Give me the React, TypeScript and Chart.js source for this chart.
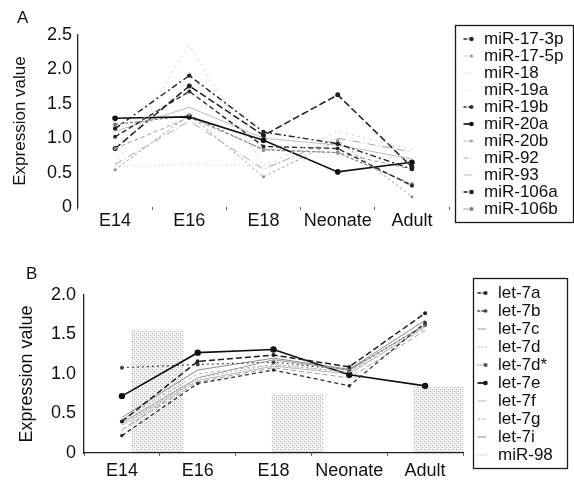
import React, { useEffect, useRef } from 'react';
import { Chart, registerables } from 'chart.js';

Chart.register(...registerables);

const FONT = "'Liberation Sans', Arial, Helvetica, sans-serif";

// ---------- categories ----------
const stages = ['E14', 'E16', 'E18', 'Neonate', 'Adult'];

// ---------- Panel A : miR-17 family ----------
const yMaxA = 2.5;
const yStepA = 0.5;
const mir17_3p = [1.14, 1.91, 1.09, 0.92, 0.55];
const mir17_5p = [0.54, 1.34, 0.44, 0.97, 0.15];
const mir18 = [0.62, 2.35, 0.6, 1.1, 0.83];
const mir19a = [0.58, 0.62, 0.6, 0.75, 0.7];
const mir19b = [1.02, 1.68, 0.88, 0.85, 0.31];
const mir20a = [1.29, 1.31, 0.97, 0.51, 0.65];
const mir20b = [0.85, 1.3, 0.84, 0.79, 0.55];
const mir92 = [0.62, 1.25, 0.55, 1.0, 0.8];
const mir93 = [1.1, 1.45, 1.0, 0.9, 0.7];
const mir106a = [0.85, 1.76, 1.04, 1.63, 0.58];
const mir106b = [1.2, 1.33, 0.83, 0.79, 0.33];

const labelsA = ['miR-17-3p', 'miR-17-5p', 'miR-18', 'miR-19a', 'miR-19b', 'miR-20a', 'miR-20b', 'miR-92', 'miR-93', 'miR-106a', 'miR-106b'];
const valuesA = [mir17_3p, mir17_5p, mir18, mir19a, mir19b, mir20a, mir20b, mir92, mir93, mir106a, mir106b];

// ---------- Panel B : let-7 family ----------
const yMaxB = 2.0;
const yStepB = 0.5;
const let7a = [0.4, 1.16, 1.24, 1.09, 1.77];
const let7b = [0.22, 0.88, 1.05, 0.85, 1.65];
const let7c = [0.38, 0.95, 1.18, 1.05, 1.62];
const let7d = [0.42, 1.0, 1.12, 1.02, 1.58];
const let7dStar = [1.08, 1.12, 1.15, 1.05, 1.62];
const let7e = [0.72, 1.27, 1.31, 0.99, 0.85];
const let7f = [0.35, 0.92, 1.1, 1.0, 1.6];
const let7g = [0.3, 0.9, 1.08, 0.95, 1.55];
const let7i = [0.45, 1.05, 1.2, 1.06, 1.68];
const mir98 = [0.28, 0.95, 1.12, 1.03, 1.63];

const labelsB = ['let-7a', 'let-7b', 'let-7c', 'let-7d', 'let-7d*', 'let-7e', 'let-7f', 'let-7g', 'let-7i', 'miR-98'];
const valuesB = [let7a, let7b, let7c, let7d, let7dStar, let7e, let7f, let7g, let7i, mir98];

// shaded (stippled) regions in panel B, in category / value units
const bandStart = [0.12, 1.97, 3.84];
const bandEnd = [0.81, 2.66, 4.5];
const bandTop = [1.56, 0.75, 0.84];

// ---------- styles ----------
type Style = { color: string; dash: number[]; width: number; radius: number };

const stylesA: Style[] = [
  { color: '#222222', dash: [6, 3, 2, 3], width: 1.4, radius: 2.2 },
  { color: '#8c8c8c', dash: [2, 3], width: 1, radius: 1.5 },
  { color: '#cccccc', dash: [2, 4], width: 1, radius: 0 },
  { color: '#cfcfcf', dash: [1, 3], width: 1, radius: 0 },
  { color: '#2a2a2a', dash: [5, 3], width: 1.4, radius: 2 },
  { color: '#111111', dash: [], width: 1.6, radius: 2.8 },
  { color: '#9a9a9a', dash: [4, 3], width: 1, radius: 1.5 },
  { color: '#a8a8a8', dash: [8, 3, 1, 3], width: 1, radius: 0 },
  { color: '#bbbbbb', dash: [], width: 1, radius: 0 },
  { color: '#1e1e1e', dash: [7, 3], width: 1.5, radius: 2.5 },
  { color: '#777777', dash: [3, 2], width: 1.1, radius: 2 },
];

const stylesB: Style[] = [
  { color: '#1e1e1e', dash: [6, 3], width: 1.5, radius: 2 },
  { color: '#333333', dash: [4, 3], width: 1.3, radius: 1.8 },
  { color: '#9a9a9a', dash: [], width: 1, radius: 0 },
  { color: '#b0b0b0', dash: [3, 3], width: 1, radius: 0 },
  { color: '#444444', dash: [2, 3], width: 1.2, radius: 2 },
  { color: '#111111', dash: [], width: 1.7, radius: 3.2 },
  { color: '#b8b8b8', dash: [], width: 1, radius: 0 },
  { color: '#a0a0a0', dash: [5, 3], width: 1, radius: 0 },
  { color: '#8a8a8a', dash: [], width: 1, radius: 0 },
  { color: '#9a9a9a', dash: [1.5, 3], width: 1, radius: 0 },
];

// ---------- geometry ----------
type Geom = {
  top: number; height: number; padTop: number; yAxisWidth: number; xAxisHeight: number;
  legendMaxWidth: number; legendTopOffset: number; labelPad: number;
  titlePad: number; titleSize: number; yTickPad: number; xTickPad: number;
  box: { l: number; r: number; t: number; b: number }; xBorder: boolean;
};

const LEGEND_FONT = 17;
const MARK_W = 56;
const TEXT_OFFSET = 35;

const geomA: Geom = {
  top: 0, height: 245, padTop: 35, yAxisWidth: 78, xAxisHeight: 38,
  legendMaxWidth: 125, legendTopOffset: -4.5, labelPad: 0,
  titlePad: 10, titleSize: 17, yTickPad: 6, xTickPad: 0,
  box: { l: 6, r: 124, t: -10, b: 15 }, xBorder: false,
};
const geomB: Geom = {
  top: 245, height: 249, padTop: 50, yAxisWidth: 84, xAxisHeight: 41,
  legendMaxWidth: 111, legendTopOffset: -11.5, labelPad: 1,
  titlePad: 16, titleSize: 18, yTickPad: 8, xTickPad: 4,
  box: { l: 10, r: 104, t: -17, b: 15 }, xBorder: true,
};

function makeMarker(st: Style): HTMLCanvasElement {
  const c = document.createElement('canvas');
  c.width = MARK_W;
  c.height = 10;
  const g = c.getContext('2d')!;
  g.strokeStyle = st.color;
  g.lineWidth = Math.max(1, st.width);
  g.setLineDash(st.dash.map((d) => d * 0.6));
  g.beginPath();
  g.moveTo(MARK_W - 12, 5);
  g.lineTo(MARK_W - 3, 5);
  g.stroke();
  if (st.radius > 0) {
    g.fillStyle = st.color;
    g.beginPath();
    g.arc(MARK_W - 4, 5, Math.min(st.radius, 2.3), 0, Math.PI * 2);
    g.fill();
  }
  return c;
}

function stipple(ctx: CanvasRenderingContext2D) {
  const c = document.createElement('canvas');
  c.width = 4;
  c.height = 4;
  const g = c.getContext('2d')!;
  g.fillStyle = 'rgba(110,110,110,0.55)';
  g.fillRect(0, 0, 1, 1);
  g.fillRect(2, 2, 1, 1);
  g.fillStyle = 'rgba(160,160,160,0.35)';
  g.fillRect(2, 0, 1, 1);
  g.fillRect(0, 2, 1, 1);
  return ctx.createPattern(c, 'repeat');
}

function legendPlacer(geom: Geom) {
  return {
    id: 'legendPlacer',
    afterLayout(chart: any) {
      const lg = chart.legend;
      if (!lg) return;
      const ca = chart.chartArea;
      const left = ca.right + TEXT_OFFSET - geom.labelPad - MARK_W - LEGEND_FONT / 2;
      lg.left = left;
      lg.right = chart.width;
      lg.width = lg.right - left;
      lg.top = ca.top + geom.legendTopOffset;
      lg.bottom = chart.height;
      lg.height = lg.bottom - lg.top;
    },
    afterDraw(chart: any) {
      const ca = chart.chartArea;
      const ctx = chart.ctx;
      ctx.save();
      ctx.strokeStyle = '#1a1a1a';
      ctx.lineWidth = 1.3;
      const x0 = Math.round(ca.right + geom.box.l) + 0.5;
      const x1 = Math.round(ca.right + geom.box.r) + 0.5;
      const y0 = Math.round(ca.top + geom.box.t) + 0.5;
      const y1 = Math.round(ca.bottom + geom.box.b) + 0.5;
      ctx.strokeRect(x0, y0, x1 - x0, y1 - y0);
      ctx.restore();
    },
  };
}

function bandsPlugin(starts: number[], ends: number[], tops: number[]) {
  return {
    id: 'bands',
    beforeDatasetsDraw(chart: any) {
      const x = chart.scales.x;
      const y = chart.scales.y;
      const ctx = chart.ctx as CanvasRenderingContext2D;
      const pat = stipple(ctx);
      ctx.save();
      starts.forEach((s, i) => {
        const x1 = x.getPixelForValue(s);
        const x2 = x.getPixelForValue(ends[i]);
        const yt = y.getPixelForValue(tops[i]);
        const yb = y.getPixelForValue(0);
        ctx.fillStyle = 'rgba(0,0,0,0.035)';
        ctx.fillRect(x1, yt, x2 - x1, yb - yt);
        if (pat) {
          ctx.fillStyle = pat;
          ctx.fillRect(x1, yt, x2 - x1, yb - yt);
        }
      });
      ctx.restore();
    },
  };
}

function buildConfig(geom: Geom, labels: string[], values: number[][], styles: Style[], yMax: number, yStep: number, extra: any[]) {
  const markers = styles.map(makeMarker);
  return {
    type: 'line' as const,
    data: {
      labels: stages,
      datasets: values.map((v, i) => ({
        label: labels[i],
        data: v,
        borderColor: styles[i].color,
        backgroundColor: styles[i].color,
        borderWidth: styles[i].width,
        borderDash: styles[i].dash,
        pointRadius: styles[i].radius,
        pointBackgroundColor: styles[i].color,
        pointBorderWidth: 0,
        pointHoverRadius: 0,
        tension: 0,
        fill: false,
      })),
    },
    options: {
      animation: false,
      responsive: false,
      events: [],
      layout: { padding: { top: geom.padTop, left: 0, right: 0, bottom: 0 } },
      scales: {
        x: {
          type: 'category',
          offset: true,
          afterFit: (s: any) => { s.height = geom.xAxisHeight; },
          grid: { display: true, drawOnChartArea: false, drawTicks: true, tickLength: 3, offset: true, color: '#666666', lineWidth: 1 },
          border: { display: geom.xBorder, color: '#222222', width: 1.2 },
          ticks: { font: { size: 18, family: FONT }, color: '#111111', padding: geom.xTickPad, maxRotation: 0, autoSkip: false },
        },
        y: {
          min: 0,
          max: yMax,
          afterFit: (s: any) => { s.width = geom.yAxisWidth; },
          grid: { display: false, drawTicks: false },
          border: { display: true, color: '#222222', width: 1.3 },
          ticks: {
            stepSize: yStep,
            font: { size: 18, family: FONT },
            color: '#111111',
            padding: geom.yTickPad,
            callback: (v: any) => (Number(v) === 0 ? '0' : Number(v).toFixed(1)),
          },
          title: {
            display: true,
            text: 'Expression value',
            font: { size: geom.titleSize, family: FONT },
            color: '#111111',
            padding: { top: geom.titlePad, bottom: 0 },
          },
        },
      },
      plugins: {
        tooltip: { enabled: false },
        title: { display: false },
        legend: {
          position: 'right',
          align: 'start',
          maxWidth: geom.legendMaxWidth,
          labels: {
            usePointStyle: true,
            pointStyleWidth: MARK_W,
            boxHeight: 10,
            padding: geom.labelPad,
            color: '#111111',
            font: { size: LEGEND_FONT, family: FONT },
            generateLabels: (chart: any) =>
              (Chart.defaults.plugins.legend.labels.generateLabels as any)(chart).map((it: any, i: number) => ({
                ...it,
                pointStyle: markers[i],
                fontColor: '#111111',
              })),
          },
        },
      },
    },
    plugins: [legendPlacer(geom), ...extra],
  };
}

function Panel(props: { geom: Geom; labels: string[]; values: number[][]; styles: Style[]; yMax: number; yStep: number; bands?: boolean }) {
  const ref = useRef<HTMLCanvasElement>(null);
  useEffect(() => {
    if (!ref.current) return;
    const extra = props.bands ? [bandsPlugin(bandStart, bandEnd, bandTop)] : [];
    const chart = new Chart(ref.current, buildConfig(props.geom, props.labels, props.values, props.styles, props.yMax, props.yStep, extra) as any);
    return () => chart.destroy();
  }, []);
  return (
    <canvas
      ref={ref}
      width={574}
      height={props.geom.height}
      style={{ position: 'absolute', left: 0, top: props.geom.top, display: 'block' }}
    />
  );
}

export default function App() {
  const letter: React.CSSProperties = { position: 'absolute', fontFamily: FONT, fontSize: 17, lineHeight: '20px', color: '#111' };
  return (
    <div style={{ position: 'fixed', left: 0, top: 0, width: 574, height: 494, background: '#ffffff', overflow: 'hidden' }}>
      <Panel geom={geomA} labels={labelsA} values={valuesA} styles={stylesA} yMax={yMaxA} yStep={yStepA} />
      <Panel geom={geomB} labels={labelsB} values={valuesB} styles={stylesB} yMax={yMaxB} yStep={yStepB} bands />
      <div style={{ ...letter, left: 17, top: 8 }}>A</div>
      <div style={{ ...letter, left: 26, top: 264 }}>B</div>
    </div>
  );
}
